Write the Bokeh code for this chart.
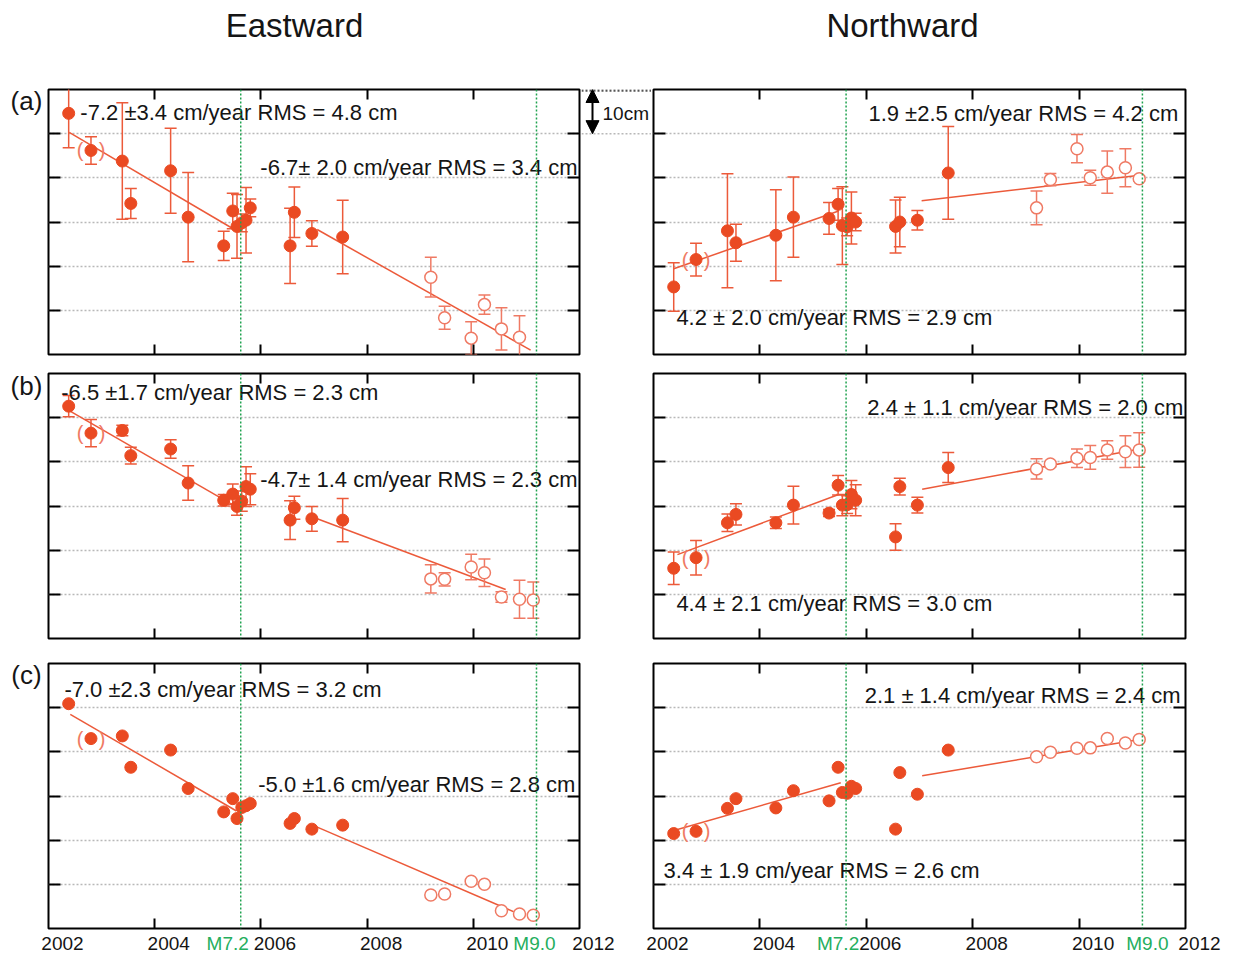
from bokeh.plotting import figure
from bokeh.layouts import column, row
from bokeh.models import Range1d, LinearAxis, FixedTicker, Span, Arrow, NormalHead, Spacer
from bokeh.core.properties import value
from bokeh.embed import file_html
from bokeh.resources import INLINE

NaN = float("nan")
FONT = "Liberation Sans"

# ---------------- data ----------------
column_titles = ["Eastward", "Northward"]
row_labels = ["(a)", "(b)", "(c)"]
x_tick_years = [2002, 2004, 2006, 2008, 2010, 2012]
x_tick_labels = ["2002", "2004", "2006", "2008", "2010", "2012"]
y_grid_cm = [10, 20, 30, 40, 50]
event_years = [2005.62, 2011.19]
event_labels = ["M7.2", "M9.0"]
scale_bar_cm = 10
scale_bar_label = "10cm"

# observation epochs (decimal year)
epochs_pre = [2002.38, 2002.80, 2003.39, 2003.55, 2004.30, 2004.63, 2005.30, 2005.47,
              2005.55, 2005.64, 2005.72, 2005.80, 2006.55, 2006.63, 2006.96, 2007.54]
epochs_post = [2009.20, 2009.46, 2009.96, 2010.21, 2010.53, 2010.87, 2011.13]

# (a) displacement [cm], relative
a_east_pre = [54.6, 46.2, 43.8, 34.2, 41.6, 31.1, 24.6, 32.5, 29.0, 29.8, 30.4, 33.2, 24.6, 32.2, 27.4, 26.6]
a_east_pre_err = [7.8, 3.1, 13.2, 3.4, 9.6, 10.1, 3.3, 4.0, 7.2, 2.0, 7.4, 2.0, 8.5, 5.7, 2.9, 8.3]
a_east_post = [17.5, 8.3, 3.7, 11.3, 5.8, 3.9, NaN]
a_east_post_err = [4.5, 2.6, 3.7, 2.2, 4.8, 4.9, NaN]
a_north_pre = [15.3, 21.5, 28.0, 25.3, 27.0, 31.1, 30.8, 34.0, 29.2, 28.9, 30.9, 30.0, 29.0, 30.0, 30.4, 41.1]
a_north_pre_err = [5.5, 3.7, 12.9, 4.2, 10.3, 9.1, 3.6, 3.6, 8.8, 2.0, 5.9, 2.0, 6.0, 5.6, 2.2, 10.5]
a_north_post = [33.2, 39.6, 46.6, 40.0, 41.3, 42.3, 39.8]
a_north_post_err = [3.8, 1.4, 3.2, 1.7, 4.8, 4.3, 0.6]

# (b)
b_east_pre = [52.6, 46.5, 47.1, 41.4, 42.9, 35.2, 31.3, 32.7, 29.9, 31.1, 34.4, 33.8, 26.8, 29.6, 27.1, 26.8]
b_east_pre_err = [2.4, 3.1, 1.2, 1.9, 2.1, 3.9, 1.3, 2.3, 2.0, 2.3, 4.5, 3.5, 4.4, 2.6, 2.8, 4.9]
b_east_post = [13.5, 13.4, 16.2, 14.9, 9.4, 8.9, 8.7]
b_east_post_err = [3.2, 1.5, 2.9, 3.1, 1.2, 4.3, 4.1]
b_north_pre = [15.9, 18.3, 26.2, 28.1, 26.2, 30.2, 28.4, 34.7, 30.2, 30.3, 32.6, 31.3, 23.0, 34.4, 30.2, 38.7]
b_north_pre_err = [3.7, 3.9, 2.0, 2.4, 1.3, 4.3, 0.8, 2.2, 2.4, 2.0, 3.2, 3.5, 3.0, 1.9, 1.8, 3.4]
b_north_post = [38.4, 39.5, 40.8, 41.0, 42.7, 42.3, 42.7]
b_north_post_err = [2.3, 0.6, 2.1, 2.7, 2.1, 3.6, 3.9]

# (c) (no error bars)
c_east_pre = [50.9, 43.0, 43.6, 36.5, 40.4, 31.7, 26.4, 29.4, 24.9, 27.4, 27.8, 28.3, 23.8, 24.9, 22.5, 23.4]
c_east_post = [7.6, 7.8, 10.7, 10.0, 4.0, 3.3, 3.0]
c_north_pre = [21.5, 22.0, 27.2, 29.4, 27.3, 31.2, 28.9, 36.5, 30.8, 30.6, 32.2, 31.7, 22.5, 35.3, 30.4, 40.4]
c_north_post = [38.9, 39.9, 40.8, 40.9, 43.0, 42.0, 42.8]

# linear fits: (start year, end year, start value, end value)
a_east_fits = [(2002.39, 2005.50, 50.3, 28.3), (2007.06, 2011.08, 28.3, 1.0)]
a_north_fits = [(2002.38, 2005.48, 19.4, 32.5), (2007.04, 2011.14, 34.8, 40.6)]
b_east_fits = [(2002.39, 2005.52, 51.6, 29.9), (2007.06, 2010.61, 27.1, 11.1)]
b_north_fits = [(2002.45, 2005.48, 19.0, 32.6), (2007.05, 2011.14, 33.8, 42.9)]
c_east_fits = [(2002.41, 2005.54, 48.5, 26.6), (2007.05, 2010.76, 23.0, 3.8)]
c_north_fits = [(2002.45, 2005.52, 22.4, 33.0), (2007.05, 2011.14, 34.6, 42.8)]

# rate annotations
a_east_notes = ["-7.2 ±3.4 cm/year  RMS =  4.8 cm", "-6.7± 2.0 cm/year  RMS =  3.4 cm"]
a_north_notes = ["1.9 ±2.5 cm/year  RMS =  4.2 cm", "4.2 ± 2.0 cm/year  RMS =  2.9 cm"]
b_east_notes = ["-6.5 ±1.7 cm/year  RMS =  2.3 cm", "-4.7±  1.4 cm/year  RMS =  2.3 cm"]
b_north_notes = ["2.4 ± 1.1 cm/year  RMS =  2.0 cm", "4.4 ± 2.1 cm/year  RMS =  3.0 cm"]
c_east_notes = ["-7.0 ±2.3 cm/year  RMS =  3.2 cm", "-5.0 ±1.6 cm/year  RMS =  2.8 cm"]
c_north_notes = ["2.1 ± 1.4 cm/year  RMS =  2.4 cm", "3.4 ± 1.9 cm/year  RMS =  2.6 cm"]

# ---------------- styling / geometry ----------------
RED = "#EA4A22"
LINE_RED = "#EC5A3A"
OPEN_RED = "#EF7A64"
GREEN = "#1FA24F"
GREEN_TXT = "#25AE5E"
GRID = "#b8b8b8"
TXT = "#151515"

FRAME_H = 265
PX_PER_CM = FRAME_H / 60.0
LAB_W = 46                       # strip holding (a), (b), (c)
GAP_W = 70                       # strip between the two columns (scale bar)
COL_GEOM = [(2, 531, 2), (2, 532, 49)]        # border left, frame width, border right
ROW_GEOM = [(9, 9), (10, 12), (13, 2)]        # border top, border bottom
TITLE_H = 80
TICK_H = 28

note_positions = {
    (0, 0): [(2002.60, 54.8), (2005.99, 42.3)],
    (0, 1): [(2006.04, 54.6), (2002.43, 8.4)],
    (1, 0): [(2002.24, 55.7), (2005.99, 36.0)],
    (1, 1): [(2006.02, 52.3), (2002.43, 7.9)],
    (2, 0): [(2002.30, 54.1), (2005.95, 32.6)],
    (2, 1): [(2005.97, 52.8), (2002.19, 13.1)],
}
event_label_offsets = [(-13, -2), (-8, 5)]
row_label_y_below_top = [11, 12, 11]     # px below the panel's top edge


def bare(width, height, xr, yr):
    s = figure(width=width, height=height, x_range=xr, y_range=yr, title=None,
               min_border_left=0, min_border_right=0, min_border_top=0, min_border_bottom=0,
               x_axis_location=None, y_axis_location=None,
               toolbar_location=None, tools="", output_backend="svg")
    s.outline_line_color = None
    s.grid.visible = False
    s.background_fill_color = "white"
    s.border_fill_color = "white"
    return s


def build(ri, ci, pre, pre_err, post, post_err, fits, notes):
    bl, fw, br = COL_GEOM[ci]
    bt, bb = ROW_GEOM[ri]
    p = figure(frame_width=fw, frame_height=FRAME_H, title=None,
               min_border_left=bl, min_border_right=br,
               min_border_top=bt, min_border_bottom=bb,
               x_range=Range1d(2002, 2012), y_range=Range1d(0, 60),
               toolbar_location=None, tools="", output_backend="svg")
    p.outline_line_color = "black"
    p.outline_line_width = 2
    p.background_fill_color = "white"
    p.border_fill_color = "white"

    p.add_layout(LinearAxis(), "above")
    p.add_layout(LinearAxis(), "right")
    xt = x_tick_years[1:-1]
    for ax in p.xaxis:
        ax.ticker = FixedTicker(ticks=xt)
        ax.major_label_overrides = {t: "" for t in xt}
        ax.major_tick_in = 10
    for ax in p.yaxis:
        ax.ticker = FixedTicker(ticks=y_grid_cm)
        ax.major_label_overrides = {t: "" for t in y_grid_cm}
        ax.major_tick_in = 12
    for ax in p.axis:
        ax.major_tick_out = 0
        ax.minor_tick_in = 0
        ax.minor_tick_out = 0
        ax.major_label_text_font_size = "0px"
        ax.major_label_standoff = 0
        ax.axis_line_color = None
        ax.major_tick_line_color = "black"
        ax.major_tick_line_width = 2

    p.xgrid.visible = False
    p.ygrid.ticker = FixedTicker(ticks=y_grid_cm)
    p.ygrid.grid_line_color = GRID
    p.ygrid.grid_line_dash = "2 2"
    p.ygrid.grid_line_width = 1.5

    for ev in event_years:
        p.add_layout(Span(location=ev, dimension="height", line_color=GREEN,
                          line_dash="2 2", line_width=1.5))

    for (t0, t1, v0, v1) in fits:
        p.line([t0, t1], [v0, v1], line_color=LINE_RED, line_width=1.5)

    if pre_err is not None:
        for ts, vs, es, col in ((epochs_pre, pre, pre_err, LINE_RED),
                                (epochs_post, post, post_err, OPEN_RED)):
            lo = [v - e for v, e in zip(vs, es)]
            hi = [v + e for v, e in zip(vs, es)]
            p.segment(x0=ts, y0=lo, x1=ts, y1=hi, line_color=col, line_width=1.5)
            p.scatter(ts, lo, marker="dash", size=12, line_color=col, line_width=1.5)
            p.scatter(ts, hi, marker="dash", size=12, line_color=col, line_width=1.5)

    p.scatter(epochs_pre, pre, marker="circle", size=12, fill_color=RED, line_color=RED)
    p.scatter(epochs_post, post, marker="circle", size=12, fill_color="white",
              line_color=OPEN_RED, line_width=1.5)

    # parentheses around the second epoch
    p.text(x=[epochs_pre[1], epochs_pre[1]], y=[pre[1], pre[1]], text=["(", ")"],
           x_offset=[-11, 11], text_align="center", text_baseline="middle",
           text_font=value(FONT), text_font_size="20px", text_color=OPEN_RED)

    pos = note_positions[(ri, ci)]
    p.text(x=[q[0] for q in pos], y=[q[1] for q in pos], text=notes,
           text_align="left", text_baseline="middle", text_font=value(FONT),
           text_font_size="22px", text_color=TXT)
    return p


panels = [
    [build(0, 0, a_east_pre, a_east_pre_err, a_east_post, a_east_post_err, a_east_fits, a_east_notes),
     build(0, 1, a_north_pre, a_north_pre_err, a_north_post, a_north_post_err, a_north_fits, a_north_notes)],
    [build(1, 0, b_east_pre, b_east_pre_err, b_east_post, b_east_post_err, b_east_fits, b_east_notes),
     build(1, 1, b_north_pre, b_north_pre_err, b_north_post, b_north_post_err, b_north_fits, b_north_notes)],
    [build(2, 0, c_east_pre, None, c_east_post, None, c_east_fits, c_east_notes),
     build(2, 1, c_north_pre, None, c_north_post, None, c_north_fits, c_north_notes)],
]

row_h = [bt + FRAME_H + bb for (bt, bb) in ROW_GEOM]
left_w = sum(COL_GEOM[0])
right_w = sum(COL_GEOM[1])
total_w = LAB_W + left_w + GAP_W + right_w

# ---- title strip ----
half = total_w // 2
title_figs = []
title_centers = [294, 902]
for k in range(2):
    w = half if k == 0 else total_w - half
    x0 = 0 if k == 0 else half
    t = bare(w, TITLE_H, Range1d(0, w), Range1d(0, TITLE_H))
    t.text(x=[title_centers[k] - x0], y=[TITLE_H - 25], text=[column_titles[k]],
           text_align="center", text_baseline="middle", text_font=value(FONT),
           text_font_size="33px", text_color=TXT)
    title_figs.append(t)

# ---- row label strips (their frames line up with the panel frames) ----
lab_figs = []
for ri in range(3):
    s = bare(LAB_W, row_h[ri], Range1d(0, LAB_W), Range1d(0, FRAME_H))
    s.text(x=[26], y=[FRAME_H - row_label_y_below_top[ri]], text=[row_labels[ri]],
           text_align="center", text_baseline="middle", text_font=value(FONT),
           text_font_size="26px", text_color=TXT)
    lab_figs.append(s)

# ---- scale bar strip between the two top panels (frame aligned with panels) ----
sb = bare(GAP_W, row_h[0], Range1d(0, GAP_W), Range1d(0, 60))
top_cm = 60
bot_cm = top_cm - scale_bar_cm
inset = 1.0 / PX_PER_CM
sb.segment(x0=[0], y0=[top_cm - inset], x1=[GAP_W], y1=[top_cm - inset], line_color="#555555",
           line_width=2.5, line_dash="2 2")
sb.segment(x0=[0], y0=[bot_cm], x1=[GAP_W], y1=[bot_cm], line_color=GRID,
           line_width=1.5, line_dash="2 2")
sb.add_layout(Arrow(x_start=11, y_start=bot_cm, x_end=11, y_end=top_cm,
                    start=NormalHead(size=13, fill_color="black", line_color="black"),
                    end=NormalHead(size=13, fill_color="black", line_color="black"),
                    line_color="black", line_width=2))
sb.text(x=[21], y=[(top_cm + bot_cm) / 2 - 0.4], text=[scale_bar_label], text_align="left",
        text_baseline="middle", text_font=value(FONT), text_font_size="19px", text_color=TXT)

# ---- tick label strips (below bottom panels) ----
left_frame_x0 = LAB_W + COL_GEOM[0][0]
right_frame_x0 = LAB_W + left_w + GAP_W + COL_GEOM[1][0]
split = 640
tick_figs = []
for k, (fx0, fw, w, x0) in enumerate([(left_frame_x0, COL_GEOM[0][1], split, 0),
                                      (right_frame_x0, COL_GEOM[1][1], total_w - split, split)]):
    ppy = fw / 10.0
    start = 2002 - (fx0 - x0) / ppy
    s = bare(w, TICK_H, Range1d(start, start + w / ppy), Range1d(0, TICK_H))
    s.text(x=x_tick_years, y=[TICK_H - 13] * len(x_tick_years), text=x_tick_labels,
           x_offset=14, text_align="center", text_baseline="middle", text_font=value(FONT),
           text_font_size="19px", text_color=TXT)
    s.text(x=event_years, y=[TICK_H - 13] * 2, text=event_labels,
           x_offset=list(event_label_offsets[k]), text_align="center", text_baseline="middle",
           text_font=value(FONT), text_font_size="19px", text_color=GREEN_TXT)
    tick_figs.append(s)

layout = column(
    row(*title_figs, spacing=0),
    row(lab_figs[0], panels[0][0], sb, panels[0][1], spacing=0),
    row(lab_figs[1], panels[1][0], Spacer(width=GAP_W, height=row_h[1]), panels[1][1], spacing=0),
    row(lab_figs[2], panels[2][0], Spacer(width=GAP_W, height=row_h[2]), panels[2][1], spacing=0),
    row(*tick_figs, spacing=0),
    spacing=0,
)

with open("out.html", "w") as f:
    f.write(file_html(layout, INLINE))
